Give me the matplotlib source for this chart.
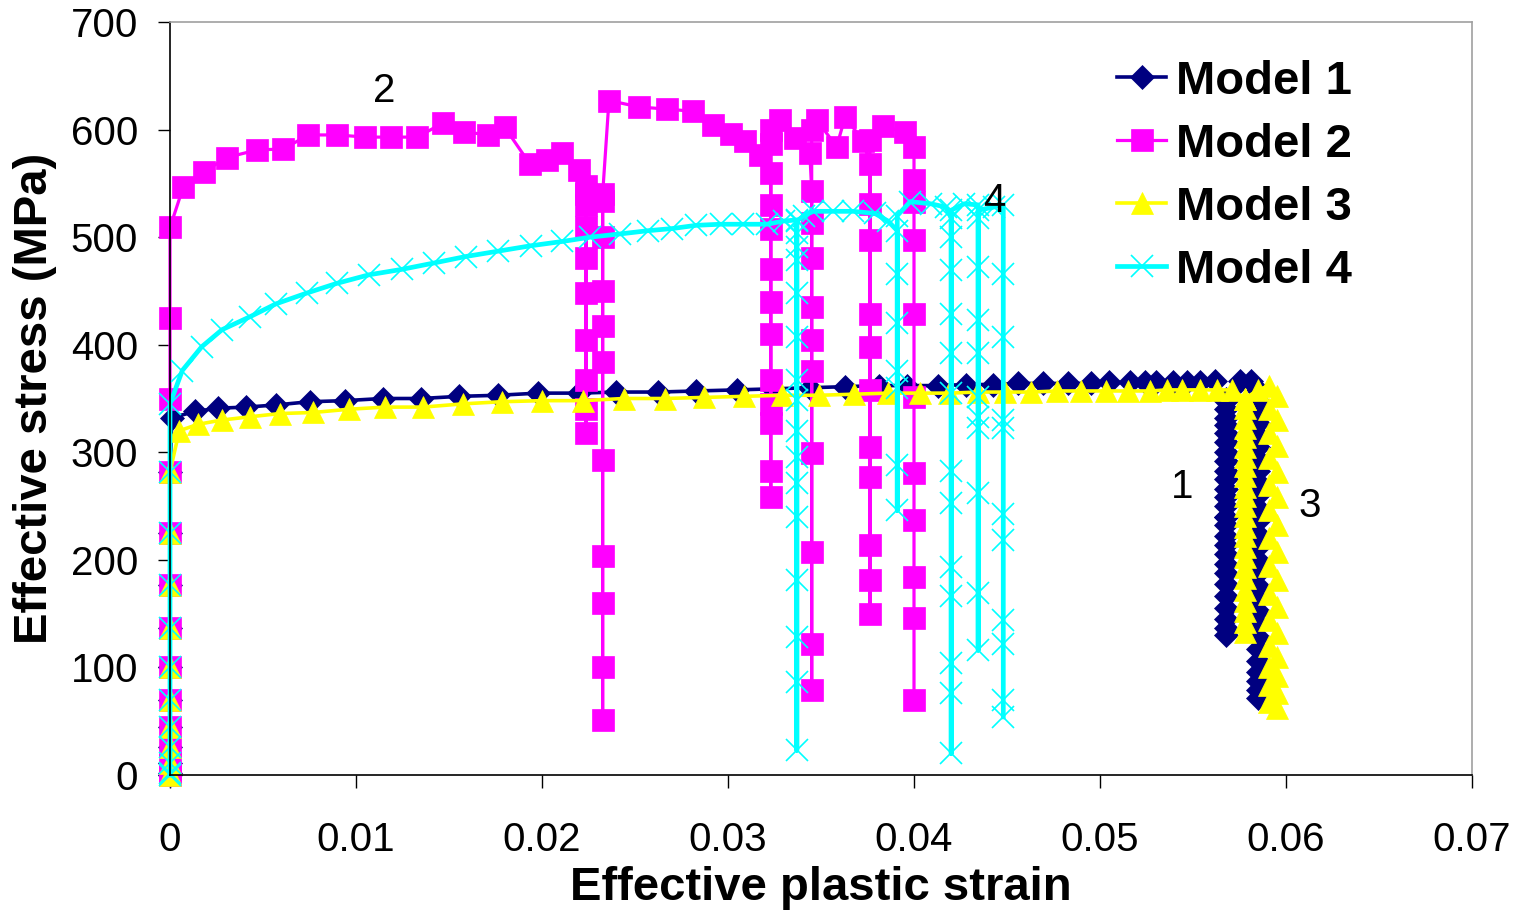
import matplotlib
matplotlib.use("Agg")
import matplotlib.pyplot as plt

plt.rcParams["font.family"] = ["Liberation Sans", "DejaVu Sans"]

# elastic loading points at zero plastic strain, shared by all models
elastic_y = [0, 2, 11, 26, 45, 70, 100, 137, 177, 225, 282]

# Model 1
m1_x = [0.0] * 11 + [
    0.0001, 0.00134, 0.0026, 0.0041, 0.0057, 0.0075, 0.0094, 0.01143, 0.0135, 0.01555,
    0.01765, 0.0198, 0.0220, 0.0240, 0.02625, 0.0283, 0.03046, 0.03243, 0.0344, 0.0363,
    0.0381, 0.0396, 0.0413, 0.0428, 0.04427, 0.0456, 0.04695, 0.0483, 0.0495, 0.0505,
    0.0516, 0.0524, 0.0530, 0.0539, 0.0547, 0.0554, 0.0562,
] + [0.0568] * 28 + [0.0575, 0.0581] + [0.0585] * 27
m1_y = elastic_y + [
    332, 338, 341, 342, 344, 347, 348, 350, 350, 352,
    353, 355, 355, 356, 356, 357, 358, 359, 360, 361,
    362, 362, 362, 363, 363, 364, 364, 364, 364, 365,
    365, 365, 365, 365, 365, 365, 366,
] + [348, 340, 332, 325, 318, 310, 300, 292, 283, 275, 266, 258, 250, 240,
     232, 222, 214, 205, 196, 188, 178, 166, 155, 145, 137, 130, 240, 350] + [366, 366] + [
    358, 348, 338, 327, 316, 305, 294, 283, 272, 260, 248, 236, 224, 212,
    200, 188, 176, 164, 152, 140, 128, 117, 106, 96, 87, 79, 72]

# Model 2
m2_x = [0.0] * 14 + [
    0.00072, 0.00184, 0.00305, 0.00466, 0.0061, 0.00744, 0.009, 0.0105, 0.0119, 0.0133,
    0.01466, 0.0158, 0.0171, 0.0180, 0.01935, 0.02025, 0.0211, 0.0220,
] + [0.02237] * 10 + [0.02326] * 11 + [
    0.0236, 0.02523, 0.02673, 0.02813, 0.0292, 0.03016, 0.0309, 0.0317,
] + [0.0323] * 13 + [0.0328, 0.0336, 0.0344] + [0.0345] * 11 + [
    0.03477, 0.03584, 0.0363, 0.03727,
] + [0.03763] * 12 + [0.03835, 0.0395] + [0.0400] * 11
m2_y = elastic_y + [350, 425, 509] + [
    547, 561, 574, 581, 582, 595, 595, 593, 593, 593,
    606, 598, 595, 602, 568, 572, 578, 562,
] + [548, 530, 509, 481, 448, 404, 367, 340, 318, 540] + [
    534, 500, 450, 417, 384, 293, 204, 160, 100, 51, 540] + [
    627, 621, 619, 617, 604, 596, 589, 576,
] + [587, 560, 530, 508, 470, 440, 410, 367, 345, 327, 283, 258, 600] + [609, 592, 578] + [
    543, 513, 481, 435, 404, 376, 299, 207, 122, 79, 600] + [
    609, 584, 612, 589,
] + [568, 531, 497, 429, 398, 358, 305, 277, 214, 181, 150, 590] + [603, 598] + [
    584, 553, 533, 497, 429, 351, 281, 237, 184, 146, 70]

# Model 3
m3_x = [0.0] * 11 + [
    0.0005, 0.0015, 0.0028, 0.0043, 0.0059, 0.0077, 0.0096, 0.01156, 0.0136, 0.01574,
    0.01783, 0.0200, 0.0222, 0.0244, 0.0266, 0.0287, 0.03086, 0.0329, 0.0349, 0.03677,
    0.0386, 0.0403, 0.0419, 0.04346, 0.0449, 0.0463, 0.0477, 0.0490, 0.0503, 0.0515,
    0.0527, 0.0536, 0.0544, 0.0554, 0.0563, 0.0571,
] + [0.0578] * 25 + [0.0585] + [0.0591, 0.0595] * 14
m3_y = elastic_y + [
    320, 326, 330, 333, 336, 337, 340, 342, 342, 345,
    347, 348, 348, 350, 350, 351, 352, 353, 353, 354,
    355, 355, 355, 356, 356, 356, 357, 357, 357, 357,
    357, 358, 358, 358, 358, 358,
] + [350, 341, 332, 323, 314, 305, 296, 287, 278, 268, 259, 250, 241, 231,
     222, 212, 203, 193, 183, 172, 162, 152, 142, 133, 350] + [358] + [
    362, 352, 340, 330, 318, 306, 295, 282, 270, 258, 246, 232, 220, 207,
    194, 181, 168, 156, 144, 132, 120, 110, 100, 92, 84, 76, 68, 62]

# Model 4
m4_x = [0.0] * 12 + [
    0.00066, 0.0017, 0.0028, 0.0043, 0.0057, 0.00735, 0.00896, 0.0107, 0.01245, 0.0142,
    0.0159, 0.01765, 0.0194, 0.0211, 0.0226, 0.0242, 0.0257, 0.0270, 0.0283, 0.0296,
    0.0308, 0.0321, 0.0330,
] + [0.0337] * 17 + [0.0341, 0.03458, 0.03566, 0.03674, 0.0379, 0.0386] + [0.0391] * 8 + [
    0.0398, 0.0409, 0.0417,
] + [0.0420] * 14 + [0.0427] + [0.04345] * 12 + [0.0443] + [0.0448] * 11
m4_y = elastic_y + [345] + [
    376, 398, 414, 426, 438, 448, 457, 465, 470, 476,
    482, 487, 492, 496, 500, 503, 506, 508, 511, 512,
    512, 512, 515,
] + [516, 504, 491, 479, 448, 407, 367, 349, 320, 296, 271, 240, 181, 128, 86, 23, 515] + [
    520, 524, 524, 524, 522, 515,
] + [506, 466, 420, 376, 360, 288, 246, 520] + [533, 531, 528] + [
    518, 500, 469, 429, 392, 355, 283, 253, 193, 166, 104, 76, 20, 525] + [531] + [
    530, 518, 472, 423, 392, 351, 333, 323, 262, 169, 116, 525] + [528] + [
    530, 466, 407, 330, 323, 243, 218, 144, 122, 70, 54]

series = [
    ("Model 1", m1_x, m1_y, "#000080", "D", 12.5, 2.6),
    ("Model 2", m2_x, m2_y, "#FF00FF", "s", 16, 2.3),
    ("Model 3", m3_x, m3_y, "#FFFF00", "^", 16.5, 2.6),
    ("Model 4", m4_x, m4_y, "#00FFFF", "x", 16, 3.4),
]

fig = plt.figure(figsize=(15.27, 9.11), dpi=100)
ax = fig.add_axes([170 / 1527, 136 / 911, 1302 / 1527, 753 / 911])

for label, xs, ys, color, marker, ms, lw in series:
    ax.plot(xs, ys, color=color, marker=marker, markersize=ms, linewidth=lw,
            markerfacecolor=color, markeredgecolor=color,
            markeredgewidth=1.2 if marker == "x" else 0.5, label=label, clip_on=False)

ax.set_xlim(0, 0.07)
ax.set_ylim(0, 700)
ax.set_xticks([0, 0.01, 0.02, 0.03, 0.04, 0.05, 0.06, 0.07])
ax.set_xticklabels(["0", "0.01", "0.02", "0.03", "0.04", "0.05", "0.06", "0.07"])
ax.set_yticks(range(0, 701, 100))

ax.tick_params(axis="both", direction="out", length=9, width=1, labelsize=29, colors="black")
ax.tick_params(axis="x", pad=24)
ax.tick_params(axis="y", pad=14)

ax.spines["top"].set_color("#a0a0a0")
ax.spines["right"].set_color("#a0a0a0")
ax.spines["left"].set_color("black")
ax.spines["bottom"].set_color("black")
for s in ax.spines.values():
    s.set_linewidth(1.2)

ax.set_xlabel("Effective plastic strain", fontsize=34, fontweight="bold", labelpad=5)
ax.set_ylabel("Effective stress (MPa)", fontsize=34, fontweight="bold", labelpad=10)

for txt, xv, yv in [("2", 0.0115, 636), ("4", 0.0443, 534), ("1", 0.0544, 268), ("3", 0.0613, 250)]:
    ax.text(xv, yv, txt, fontsize=29, ha="center", va="center")

ax.legend(loc="upper left", bbox_to_anchor=(1098 / 1527, 870 / 911), bbox_transform=fig.transFigure,
          frameon=False, numpoints=1, handlelength=1.05, handletextpad=0.2, labelspacing=0.4,
          prop={"size": 34, "weight": "bold"}, borderaxespad=0)

fig.savefig("out.png", dpi=100)
